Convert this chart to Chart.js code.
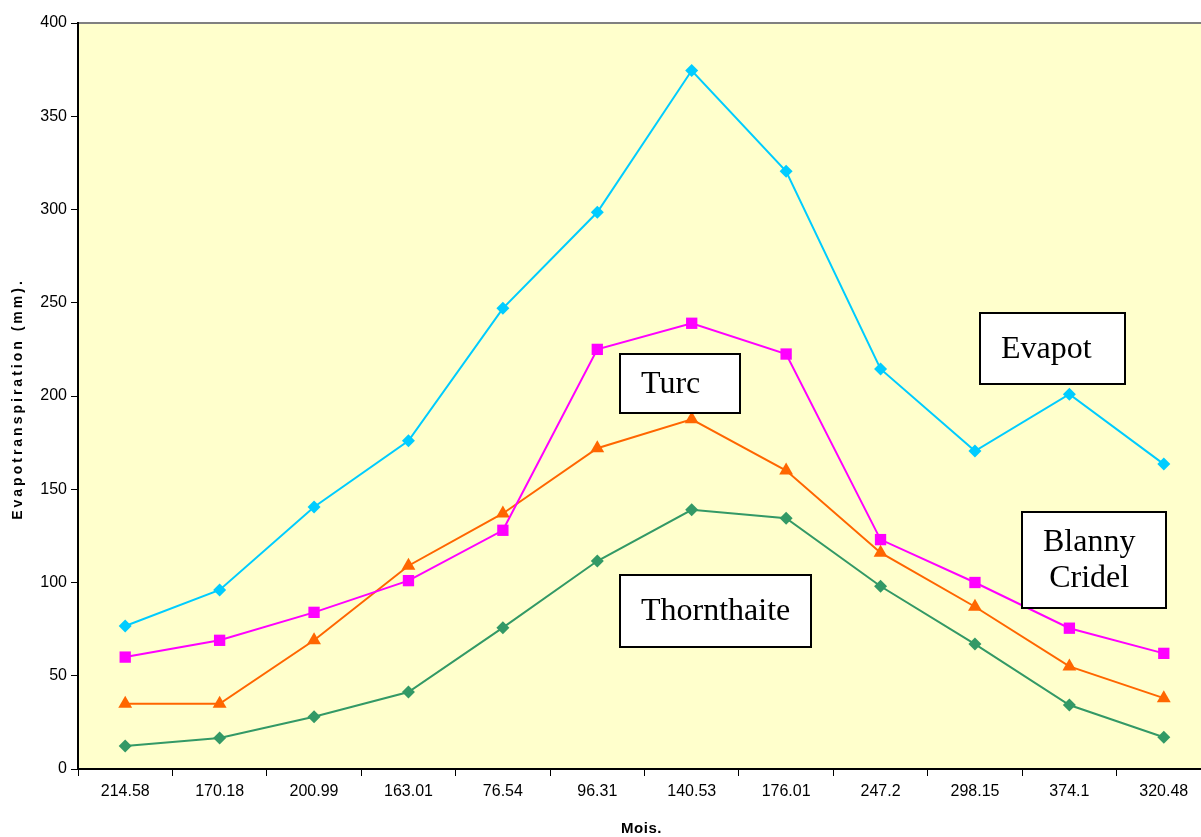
<!DOCTYPE html>
<html>
<head>
<meta charset="utf-8">
<script src="https://cdn.jsdelivr.net/npm/chart.js@4/dist/chart.umd.min.js"></script>
<style>
  html, body { margin: 0; padding: 0; background: #fff; overflow: hidden; }
  #wrap { width: 1219px; height: 837px; }
</style>
</head>
<body>
<div id="wrap"><canvas id="evapoChart"></canvas></div>
<script>
const mois = ["214.58", "170.18", "200.99", "163.01", "76.54", "96.31", "140.53", "176.01", "247.2", "298.15", "374.1", "320.48"];
const evapot = [76.7, 96, 140.5, 176, 247, 298.5, 374.5, 320.5, 214.5, 170.5, 201, 163.5];
const turc = [60, 69, 84, 101, 128, 225, 239, 222.5, 123, 100, 75.5, 62];
const blannyCridel = [35, 35, 69, 109, 137, 172, 187.5, 160, 116, 87, 55, 38];
const thornthaite = [12.3, 16.6, 28, 41.3, 75.8, 111.5, 139, 134.5, 98, 67, 34.3, 17];

const xTitle = "Mois.";
const yTitle = "Evapotranspiration (mm).";

// text boxes, in px relative to the plot area (left, top, width, height)
const boxes = [
    { lines: ["Turc"], x: 542, y: 331, w: 120, h: 59 },
    { lines: ["Evapot"], x: 902, y: 290, w: 145, h: 71 },
    { lines: ["Blanny", "Cridel"], x: 944, y: 489, w: 144, h: 96 },
    { lines: ["Thornthaite"], x: 542, y: 552, w: 191, h: 72 }
];

const plotArea = {
    id: "plotArea",
    beforeDraw(chart) {
        const { ctx, chartArea: a } = chart;
        ctx.save();
        ctx.fillStyle = "#FFFFCC";
        ctx.fillRect(a.left, a.top, a.right - a.left, a.bottom - a.top);
        ctx.strokeStyle = "#808080";
        ctx.lineWidth = 2;
        ctx.beginPath();
        ctx.moveTo(a.left, a.top);
        ctx.lineTo(a.right, a.top);
        ctx.lineTo(a.right, a.bottom);
        ctx.stroke();
        ctx.restore();
    },
    afterDraw(chart) {
        const { ctx, chartArea: a } = chart;
        ctx.save();
        // axis titles, drawn here to get the wide letter spacing
        ctx.fillStyle = "#000";
        ctx.textAlign = "center";
        ctx.textBaseline = "middle";
        ctx.font = "bold 15px 'Liberation Sans', Arial";
        ctx.letterSpacing = "0.5px";
        ctx.fillText(xTitle, (a.left + 1201) / 2 + 2, 829);
        ctx.font = "bold 14px 'Liberation Sans', Arial";
        ctx.letterSpacing = "3px";
        ctx.translate(18, 399);
        ctx.rotate(-Math.PI / 2);
        ctx.fillText(yTitle, 0, 0);
        ctx.restore();
    },
    afterDatasetsDraw(chart) {
        const { ctx, chartArea: a } = chart;
        ctx.save();
        boxes.forEach(b => {
            const x = a.left + b.x, y = a.top + b.y;
            ctx.fillStyle = "#fff";
            ctx.fillRect(x, y, b.w, b.h);
            ctx.strokeStyle = "#000";
            ctx.lineWidth = 2;
            ctx.strokeRect(x, y, b.w, b.h);
            ctx.fillStyle = "#000";
            ctx.font = "32px 'Liberation Serif', 'Times New Roman', serif";
            ctx.textAlign = "center";
            ctx.textBaseline = "middle";
            const widest = Math.max(...b.lines.map(t => ctx.measureText(t).width));
            const cx = x + 21 + widest / 2;
            const lh = 36;
            const y0 = y + b.h / 2 + 1 - (b.lines.length - 1) * lh / 2;
            b.lines.forEach((t, i) => ctx.fillText(t, cx, y0 + i * lh));
        });
        ctx.restore();
    }
};

const serie = (label, data, color, style, radius) => ({
    label: label,
    data: data,
    borderColor: color,
    backgroundColor: color,
    borderWidth: 2,
    pointStyle: style,
    pointRadius: radius,
    pointHoverRadius: radius,
    pointBorderWidth: 0,
    tension: 0
});

new Chart(document.getElementById("evapoChart"), {
    type: "line",
    data: {
        labels: mois,
        datasets: [
            serie("Evapot", evapot, "#00CCFF", "rectRot", 6.5),
            serie("Turc", turc, "#FF00FF", "rect", 8),
            serie("Blanny Cridel", blannyCridel, "#FF6600", "triangle", 8),
            serie("Thornthaite", thornthaite, "#339966", "rectRot", 6.5)
        ]
    },
    options: {
        responsive: true,
        maintainAspectRatio: false,
        animation: false,
        layout: { padding: { top: 23, right: 2, left: 0, bottom: 0 } },
        plugins: { legend: { display: false }, tooltip: { enabled: false } },
        scales: {
            x: {
                offset: true,
                afterFit(scale) { scale.height = 68; },
                grid: { offset: true, drawOnChartArea: false, tickLength: 7, color: "#000" },
                border: { color: "#000", width: 2 },
                ticks: { color: "#000", font: { family: "'Liberation Sans', Arial", size: 16 }, padding: 6, maxRotation: 0 }
            },
            y: {
                min: 0,
                max: 400,
                afterFit(scale) { scale.width = 78; },
                grid: { drawOnChartArea: false, tickLength: 7, color: "#000" },
                border: { color: "#000", width: 2 },
                ticks: { stepSize: 50, color: "#000", font: { family: "'Liberation Sans', Arial", size: 16 }, padding: 4 }
            }
        }
    },
    plugins: [plotArea]
});
</script>
</body>
</html>
